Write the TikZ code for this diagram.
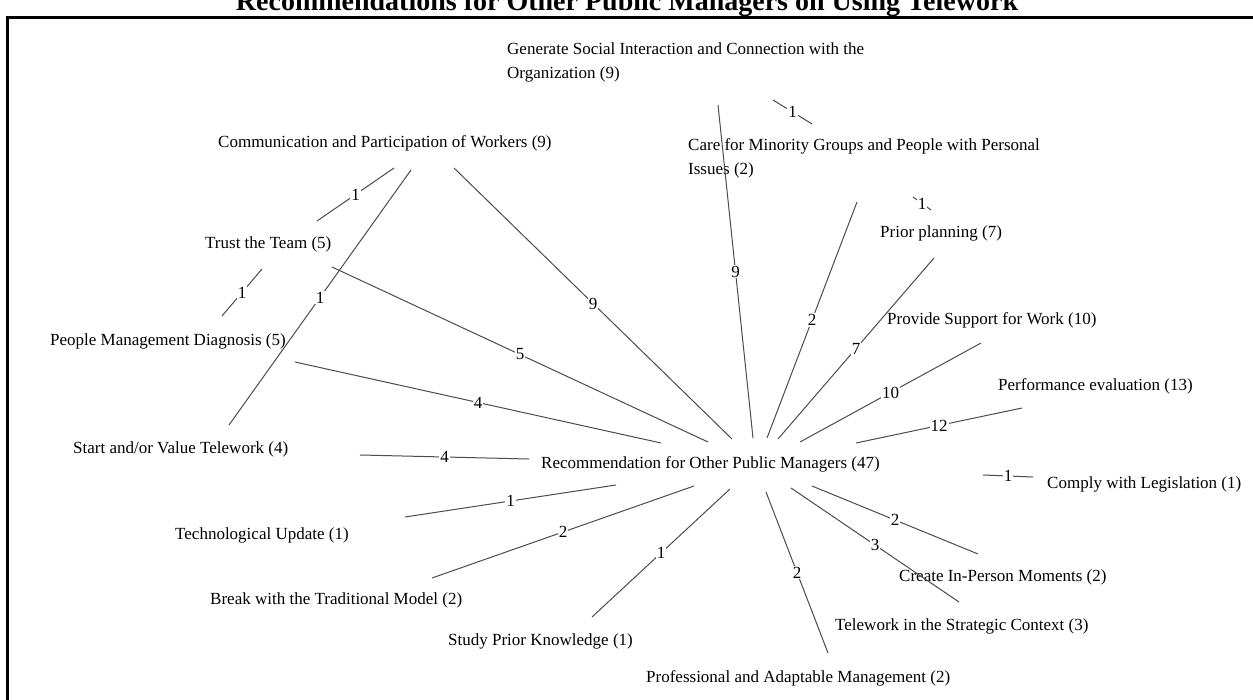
\documentclass[tikz,border=0pt]{standalone}
\usepackage{fontspec}
\setmainfont{Liberation Serif}
\begin{document}
\begin{tikzpicture}[x=1pt,y=-1pt,
  topic/.style={font=\fontsize{17}{24}\selectfont, inner sep=0pt, anchor=west, align=left},
  weight/.style={fill=white, inner sep=1pt, font=\fontsize{17}{20}\selectfont},
  link/.style={draw=black!70, line width=1pt}]
\useasboundingbox (0,0) rectangle (1253,700);
\fill[white] (0,0) rectangle (1253,700);
% frame and heading
\draw[line width=2.2pt] (7.5,720) -- (7.5,17.5) -- (1270,17.5);
\node[font=\bfseries\fontsize{28}{32}\selectfont, anchor=base, inner sep=0pt] (title) at (627,10.5)
  {Recommendations for Other Public Managers on Using Telework};

% topics
\node[topic] (gen)    at (507,62.5)  {Generate Social Interaction and Connection with the\\Organization (9)};
\node[topic] (care)   at (688,158.5) {Care for Minority Groups and People with Personal\\Issues (2)};
\node[topic] (comm)   at (218,143.5) {Communication and Participation of Workers (9)};
\node[topic] (trust)  at (205,244.5) {Trust the Team (5)};
\node[topic] (people) at (50,341.5)  {People Management Diagnosis (5)};
\node[topic] (start)  at (73,449.5)  {Start and/or Value Telework (4)};
\node[topic] (prior)  at (880,233.5) {Prior planning (7)};
\node[topic] (prov)   at (887,320.5) {Provide Support for Work (10)};
\node[topic] (perf)   at (998,386.5) {Performance evaluation (13)};
\node[topic] (comply) at (1047,484.5){Comply with Legislation (1)};
\node[topic] (rec)    at (541,464.5) {Recommendation for Other Public Managers (47)};
\node[topic] (tech)   at (175,535.5) {Technological Update (1)};
\node[topic] (break)  at (210,600.5) {Break with the Traditional Model (2)};
\node[topic] (study)  at (448,641.5) {Study Prior Knowledge (1)};
\node[topic] (create) at (899,577.5) {Create In-Person Moments (2)};
\node[topic] (strat)  at (835,626.5) {Telework in the Strategic Context (3)};
\node[topic] (prof)   at (646,678.5) {Professional and Adaptable Management (2)};

% connector ends around each topic
\coordinate (comm-r)   at (454,168);  \coordinate (rec-comm)   at (732,439);
\coordinate (gen-r)    at (718,105);  \coordinate (rec-gen)    at (753,438);
\coordinate (care-r)   at (857,202);  \coordinate (rec-care)   at (767,438);
\coordinate (prior-r)  at (934,258);  \coordinate (rec-prior)  at (778,439);
\coordinate (prov-r)   at (981,343);  \coordinate (rec-prov)   at (800,442);
\coordinate (perf-r)   at (1022,408); \coordinate (rec-perf)   at (856,443);
\coordinate (trust-r)  at (332,267);  \coordinate (rec-trust)  at (708,442);
\coordinate (people-r) at (295,362);  \coordinate (rec-people) at (661,443);
\coordinate (start-r)  at (360,455);  \coordinate (rec-start)  at (529,459);
\coordinate (tech-r)   at (405,517);  \coordinate (rec-tech)   at (616,485);
\coordinate (break-r)  at (432,578);  \coordinate (rec-break)  at (694,486);
\coordinate (study-r)  at (592,617);  \coordinate (rec-study)  at (730,489);
\coordinate (prof-r)   at (828,653);  \coordinate (rec-prof)   at (766,492);
\coordinate (strat-r)  at (959,602);  \coordinate (rec-strat)  at (791,488);
\coordinate (create-r) at (978,554);  \coordinate (rec-create) at (812,486);
\coordinate (comm-t)   at (394,168);  \coordinate (trust-c)    at (317,221);
\coordinate (trust-p)  at (262,269);  \coordinate (people-t)   at (222,316);
\coordinate (comm-s)   at (411,170);  \coordinate (start-c)    at (229,425);
\coordinate (gen-c)    at (773,100);  \coordinate (care-g)     at (812,124);
\coordinate (care-p)   at (913,197);  \coordinate (prior-c)    at (931,210);
\coordinate (perf-l)   at (983,475);  \coordinate (comply-p)   at (1033,477);

% weighted links
\draw[link] (comm-r)   -- node[weight]{9}  (rec-comm);
\draw[link] (gen-r)    -- node[weight]{9}  (rec-gen);
\draw[link] (care-r)   -- node[weight]{2}  (rec-care);
\draw[link] (prior-r)  -- node[weight]{7}  (rec-prior);
\draw[link] (prov-r)   -- node[weight]{10} (rec-prov);
\draw[link] (perf-r)   -- node[weight]{12} (rec-perf);
\draw[link] (trust-r)  -- node[weight]{5}  (rec-trust);
\draw[link] (people-r) -- node[weight]{4}  (rec-people);
\draw[link] (start-r)  -- node[weight]{4}  (rec-start);
\draw[link] (tech-r)   -- node[weight]{1}  (rec-tech);
\draw[link] (break-r)  -- node[weight]{2}  (rec-break);
\draw[link] (study-r)  -- node[weight]{1}  (rec-study);
\draw[link] (prof-r)   -- node[weight]{2}  (rec-prof);
\draw[link] (strat-r)  -- node[weight]{3}  (rec-strat);
\draw[link] (create-r) -- node[weight]{2}  (rec-create);
\draw[link] (comm-t)   -- node[weight]{1}  (trust-c);
\draw[link] (trust-p)  -- node[weight]{1}  (people-t);
\draw[link] (comm-s)   -- node[weight]{1}  (start-c);
\draw[link] (gen-c)    -- node[weight]{1}  (care-g);
\draw[link] (care-p)   -- node[weight]{1}  (prior-c);
\draw[link] (perf-l)   -- node[weight]{1}  (comply-p);
\end{tikzpicture}
\end{document}
